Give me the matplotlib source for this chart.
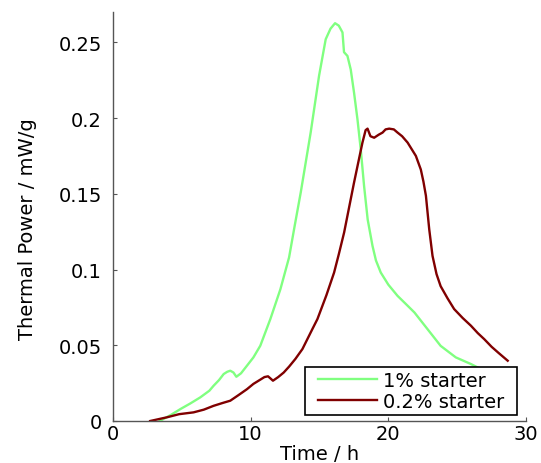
import matplotlib
matplotlib.use("Agg")
import matplotlib.pyplot as plt
from matplotlib.patches import Rectangle
from matplotlib.transforms import IdentityTransform

plt.rcParams['font.family'] = ['DejaVu Sans']

# 1% starter
t_1pct = [3.4, 4.2, 4.9, 5.6, 6.34, 7.0, 7.31, 7.7, 8.04, 8.3, 8.52, 8.75, 8.96, 9.3, 9.73,
          10.2, 10.7, 11.43, 12.16, 12.79, 13.2, 13.64, 14.36, 14.97, 15.45, 15.8, 16.13,
          16.4, 16.67, 16.78, 17.03, 17.27, 17.51, 17.76, 18.0, 18.24, 18.5, 18.85, 19.1,
          19.45, 20.0, 20.67, 21.3, 21.9, 22.85, 23.8, 24.9, 26.0, 27.0, 28.0]
p_1pct = [0.0, 0.004, 0.0079, 0.0115, 0.0156, 0.020, 0.0233, 0.027, 0.031, 0.0325, 0.0332,
          0.032, 0.0292, 0.0315, 0.0365, 0.042, 0.0497, 0.0673, 0.087, 0.108, 0.129, 0.151,
          0.1905, 0.228, 0.252, 0.259, 0.2626, 0.261, 0.2565, 0.2435, 0.241, 0.232, 0.2167,
          0.199, 0.179, 0.155, 0.133, 0.1156, 0.106, 0.098, 0.090, 0.0826, 0.077, 0.0716,
          0.0606, 0.0496, 0.042, 0.0376, 0.033, 0.029]

# 0.2% starter
t_02pct = [2.7, 3.2, 3.9, 4.8, 5.85, 6.6, 7.3, 8.0, 8.52, 9.1, 9.73, 10.2, 10.7, 11.0, 11.26,
           11.45, 11.62, 12.0, 12.4, 12.8, 13.25, 13.76, 14.5, 14.85, 15.5, 16.06, 16.4,
           16.79, 17.15, 17.5, 17.8, 18.12, 18.35, 18.49, 18.7, 18.97, 19.3, 19.58, 19.8,
           20.06, 20.4, 20.67, 21.0, 21.4, 22.0, 22.36, 22.55, 22.73, 22.97, 23.21, 23.5,
           23.8, 24.3, 24.78, 25.4, 26.0, 26.5, 26.97, 27.5, 28.0, 28.67]
p_02pct = [0.0, 0.001, 0.0024, 0.0045, 0.0057, 0.0075, 0.010, 0.012, 0.0134, 0.017, 0.021,
           0.0245, 0.0273, 0.029, 0.0295, 0.028, 0.0266, 0.029, 0.032, 0.036, 0.041, 0.0475,
           0.061, 0.0673, 0.083, 0.098, 0.110, 0.1245, 0.141, 0.157, 0.170, 0.1838, 0.192,
           0.193, 0.188, 0.187, 0.189, 0.1904, 0.1925, 0.193, 0.1925, 0.1904, 0.188, 0.1838,
           0.175, 0.166, 0.158, 0.1487, 0.1266, 0.109, 0.097, 0.089, 0.081, 0.0739, 0.068,
           0.0629, 0.058, 0.054, 0.049, 0.045, 0.0398]

labels = ['1% starter', '0.2% starter']
x_ticks = [0, 10, 20, 30]
y_ticks = [0, 0.05, 0.1, 0.15, 0.2, 0.25]
y_ticklabels = ['0', '0.05', '0.1', '0.15', '0.2', '0.25']

fig = plt.figure(figsize=(5.41, 4.64), dpi=100)
ax = fig.add_axes([113/541, 42/464, 413/541, 409/464])

ax.plot(t_1pct, p_1pct, color='#80ff80', lw=1.7, label=labels[0])
ax.plot(t_02pct, p_02pct, color='#800000', lw=1.7, label=labels[1])

ax.set_xlim(0, 30)
ax.set_ylim(0, 0.27)
ax.set_xticks(x_ticks)
ax.set_yticks(y_ticks)
ax.set_yticklabels(y_ticklabels)

for s in ['top', 'right']:
    ax.spines[s].set_visible(False)
for s in ['left', 'bottom']:
    ax.spines[s].set_color('#555555')
    ax.spines[s].set_linewidth(1.0)

ax.tick_params(direction='in', length=3, width=0.8, colors='#555555',
               labelcolor='black', labelsize=14)
ax.tick_params(axis='y', pad=8)
ax.tick_params(axis='x', pad=2)

ax.set_xlabel('Time / h', fontsize=14)
ax.set_ylabel('Thermal Power / mW/g', fontsize=14)
ax.xaxis.set_label_coords(0.5, -0.057)
ax.yaxis.label.set_va('center')
ax.yaxis.set_label_coords(-0.208, 0.472)

leg = ax.legend(loc='lower right', bbox_to_anchor=(393/413, 8/409), fontsize=14,
                frameon=False, borderpad=0.1, handlelength=3.05, handletextpad=0.3,
                labelspacing=0.1, borderaxespad=0)
leg.set_zorder(6)

fig.canvas.draw()
bb = leg.get_window_extent()
padx, pady = 11, 2
frame = Rectangle((bb.x0 - padx, bb.y0 - pady), bb.width + 2 * padx, bb.height + 2 * pady,
                  transform=IdentityTransform(), facecolor='white', edgecolor='black',
                  linewidth=1.2, zorder=5, clip_on=False)
ax.add_patch(frame)

fig.savefig('out.png', dpi=100)
